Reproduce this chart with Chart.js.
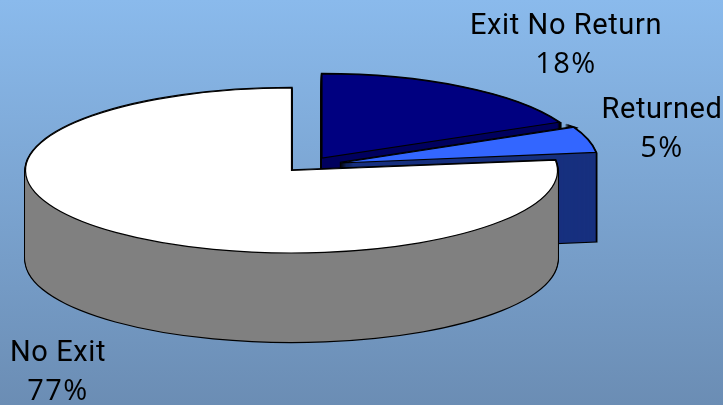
<!DOCTYPE html>
<html><head><meta charset="utf-8">
<script src="https://cdn.jsdelivr.net/npm/chart.js@4"></script>
<style>
html,body{margin:0;padding:0;width:723px;height:405px;overflow:hidden;background:linear-gradient(180deg,#8abaec 0%,#6b8db4 100%)}
canvas{display:block}
</style></head><body>
<canvas id="c" width="723" height="405"></canvas>
<script>
const categories = ['Exit No Return', 'Returned', 'No Exit'];
const shares = [18, 5, 77];
const topColors = ['#000080', '#3366ff', '#ffffff'];
const sideColors = ['#00005e', '#17307f', '#808080'];

// projection of each slice's top face: centre x, centre y, radius x, radius y
const sliceView = [
  {cx: 322, cy: 158, rx: 262, ry: 84},
  {cx: 340, cy: 163, rx: 258, ry: 84},
  {cx: 291.5, cy: 170.5, rx: 266, ry: 82.5}
];
const wallDepth = 89;
const labelSpots = [
  {x: 566, y1: 34, y2: 73},
  {x: 662, y1: 118, y2: 157},
  {x: 58, y1: 361, y2: 400}
];

function drawProjected(ctx, arc, view, depth, opts) {
  const saved = arc.options;
  arc.options = Object.assign({}, saved, opts);
  ctx.save();
  ctx.translate(view.cx, view.cy + depth);
  ctx.scale(view.rx / arc.outerRadius, view.ry / arc.outerRadius);
  ctx.translate(-arc.x, -arc.y);
  ctx.stroke = function () {
    this.save();
    this.setTransform(1, 0, 0, 1, 0, 0);
    CanvasRenderingContext2D.prototype.stroke.call(this);
    this.restore();
  };
  arc.draw(ctx);
  delete ctx.stroke;
  ctx.restore();
  arc.options = saved;
}

const pie3d = {
  id: 'pie3d',
  beforeDatasetDraw(chart, args) {
    const ctx = chart.ctx;
    args.meta.data.forEach((arc, i) => {
      const view = sliceView[i];
      for (let d = wallDepth; d >= 0; d--) {
        drawProjected(ctx, arc, view, d, {backgroundColor: 'rgba(0,0,0,0)', borderColor: '#000', borderWidth: 2.4, borderJoinStyle: 'miter'});
      }
      for (let d = wallDepth; d >= 0; d--) {
        drawProjected(ctx, arc, view, d, {backgroundColor: sideColors[i], borderWidth: 0});
      }
      drawProjected(ctx, arc, view, 0, {backgroundColor: topColors[i], borderColor: '#000', borderWidth: 1.2, borderJoinStyle: 'miter'});
    });
    return false;
  },
  afterDraw(chart) {
    const ctx = chart.ctx;
    ctx.save();
    ctx.fillStyle = '#000';
    ctx.textAlign = 'center';
    ctx.textBaseline = 'alphabetic';
    categories.forEach((name, i) => {
      const s = labelSpots[i];
      ctx.font = '29px Roboto';
      ctx.letterSpacing = '0.6px';
      ctx.fillText(name, s.x, s.y1);
      ctx.font = '29px "Open Sans"';
      ctx.letterSpacing = '1.5px';
      ctx.fillText(shares[i] + '%', s.x, s.y2);
    });
    ctx.restore();
  }
};

new Chart(document.getElementById('c'), {
  type: 'pie',
  data: {
    labels: categories,
    datasets: [{data: shares, backgroundColor: topColors, borderColor: '#000', borderWidth: 1}]
  },
  options: {
    responsive: false,
    animation: false,
    rotation: 0,
    layout: {padding: 0},
    plugins: {legend: {display: false}, tooltip: {enabled: false}}
  },
  plugins: [pie3d]
});
</script>
</body></html>
